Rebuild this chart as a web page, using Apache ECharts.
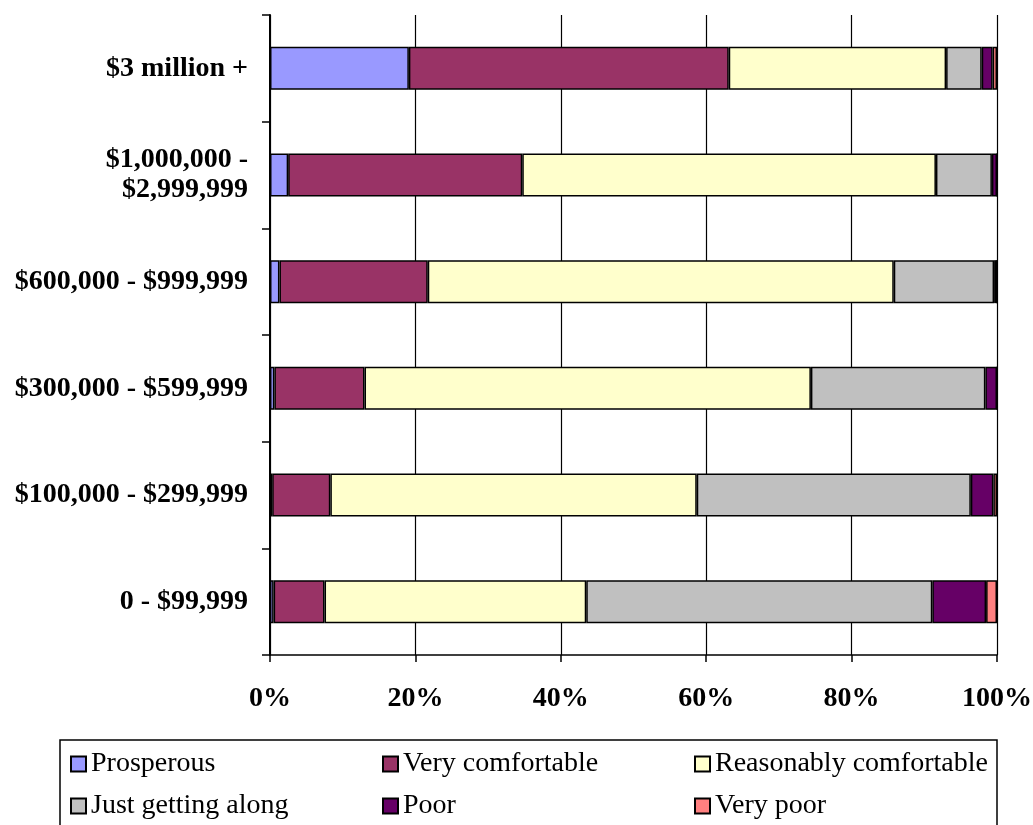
<!DOCTYPE html>
<html><head><meta charset="utf-8">
<script src="https://cdn.jsdelivr.net/npm/echarts@6/dist/echarts.min.js"></script>
<style>html,body{margin:0;padding:0;background:#fff}#c{width:1033px;height:825px}</style>
</head><body><div id="c"></div>
<script>
const categories = ['0 - $99,999', '$100,000 - $299,999', '$300,000 - $599,999', '$600,000 - $999,999', '$1,000,000 -\n$2,999,999', '$3 million +'];
const prosperous = [0.5, 0.3, 0.6, 1.3, 2.5, 19.1];
const veryComfortable = [7.0, 8.0, 12.4, 20.4, 32.2, 44.0];
const reasonablyComfortable = [36.0, 50.4, 61.4, 64.1, 56.9, 29.9];
const justGettingAlong = [47.6, 37.7, 24.0, 13.8, 7.7, 4.9];
const poor = [7.4, 3.1, 1.6, 0.4, 0.7, 1.5];
const veryPoor = [1.5, 0.5, 0, 0, 0, 0.6];
const xTicks = [0, 20, 40, 60, 80, 100];

const seriesDefs = [
  ['Prosperous', prosperous, '#9999FF'],
  ['Very comfortable', veryComfortable, '#993366'],
  ['Reasonably comfortable', reasonablyComfortable, '#FFFFCC'],
  ['Just getting along', justGettingAlong, '#C0C0C0'],
  ['Poor', poor, '#660066'],
  ['Very poor', veryPoor, '#FF8080']
];
const font = '"Liberation Serif","Times New Roman",serif';
const chart = echarts.init(document.getElementById('c'), null, {renderer: 'canvas'});
const legendPos = [[70, 750], [382, 750], [694, 750], [70, 792], [382, 792], [694, 792]];
const legends = seriesDefs.map((d, i) => ({
  orient: 'horizontal', icon: 'rect', itemWidth: 15, itemHeight: 15, padding: 0,
  textStyle: {fontFamily: font, fontSize: 28, color: '#000', padding: [0, 0, 0, 0]},
  selectedMode: false, left: legendPos[i][0], top: legendPos[i][1], data: [d[0]]
}));
chart.setOption({
  animation: false,
  grid: {left: 270, right: 36, top: 15, bottom: 170, outerBoundsMode: 'none', containLabel: false},
  xAxis: {
    type: 'value', min: 0, max: 100, interval: 20,
    axisLine: {show: true, lineStyle: {color: '#000', width: 1.5}},
    axisTick: {show: true, length: 7, lineStyle: {color: '#000', width: 1.5}},
    splitLine: {show: true, lineStyle: {color: '#000', width: 1.2}},
    axisLabel: {formatter: v => v + '%', fontFamily: font, fontSize: 28, fontWeight: 'bold', color: '#000', margin: 30}
  },
  yAxis: {
    type: 'category', data: categories,
    axisLine: {show: true, onZero: false, lineStyle: {color: '#000', width: 2}},
    axisTick: {show: true, length: 8, lineStyle: {color: '#000', width: 1.5}},
    axisLabel: {fontFamily: font, fontSize: 28, fontWeight: 'bold', color: '#000', margin: 22, align: 'right', lineHeight: 30},
    splitLine: {show: false}
  },
  legend: legends,
  graphic: [{type: 'rect', shape: {x: 60, y: 740, width: 937, height: 90}, style: {fill: 'none', stroke: '#000', lineWidth: 1.5}, z: -1}],
  series: seriesDefs.map(([name, data, color]) => ({
    name, type: 'bar', stack: 'total', data, barWidth: 43,
    itemStyle: {color, borderColor: '#000', borderWidth: 1.5},
    emphasis: {disabled: true}
  }))
});
</script></body></html>
